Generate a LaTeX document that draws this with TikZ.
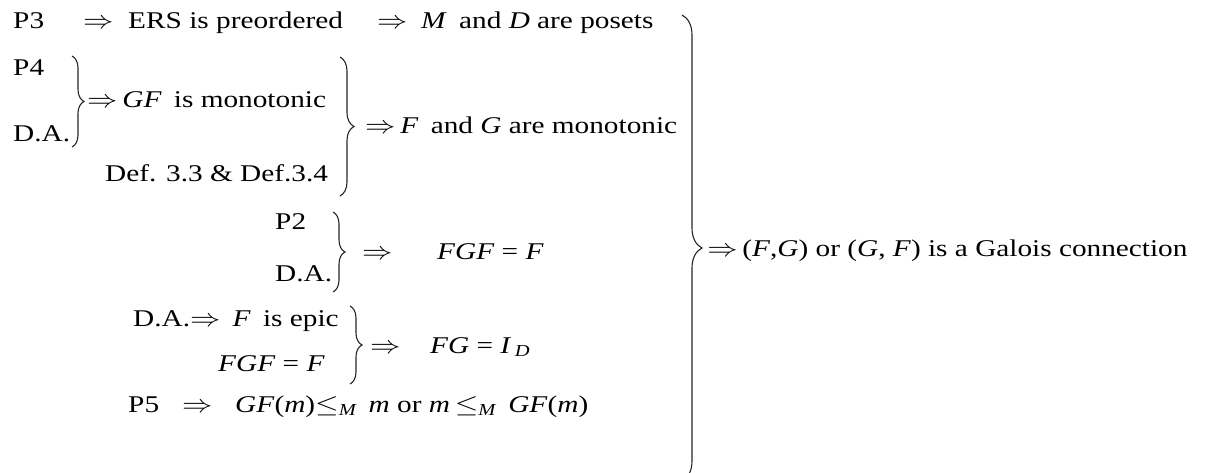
\documentclass[tikz,border=0pt]{standalone}
\usepackage{amsmath}
\usepackage{fontspec}
\setmainfont{Liberation Serif}
\usetikzlibrary{decorations.pathreplacing}
\tikzset{
  txt/.style={anchor=base west, inner sep=0pt, xscale=1.22, font=\fontsize{24}{28}\selectfont},
  brc/.style={decorate, decoration={brace, amplitude=#1}, line width=1.1pt, draw=black!85},
}
\newcommand{\im}[1]{\textit{#1}}
\newcommand{\imp}{$\Rightarrow$}

\begin{document}
\begin{tikzpicture}[x=1pt, y=-1pt]
    \useasboundingbox (0,0) rectangle (1221,473);
    \clip (0,0) rectangle (1221,473);
    % first line
    \node[txt] (p3) at (13,29) {P3};
    \node[txt] (r1a) at (83,29) {\imp};
    \node[txt] (ers) at (128,29) {ERS is preordered};
    \node[txt] (r1b) at (377,29) {\imp};
    \node[txt] (poset) at (421,29) {\im{M}\, and \im{D} are posets};
    % monotonic
    \node[txt] (p4) at (13,76) {P4};
    \node[txt] (da1) at (13,142) {D.A.};
    \node[txt] (gf) at (87,108) {\imp\,\im{GF}\, is monotonic};
    \node[txt] (def) at (105,182) {Def. 3.3 \& Def.3.4};
    \node[txt] (fg) at (365,134) {\imp\,\im{F}\, and \im{G} are monotonic};
    \coordinate (b1t) at (72,56);   \coordinate (b1b) at (72,147);
    \coordinate (b2t) at (340,57);  \coordinate (b2b) at (340,196);
    \draw[brc=12pt] (b1t) -- (b1b);
    \draw[brc=14pt] (b2t) -- (b2b);
    % FGF = F
    \node[txt] (p2) at (275,230) {P2};
    \node[txt] (da2) at (275,281) {D.A.};
    \node[txt] (r3) at (362,259) {\imp};
    \node[txt] (fgf1) at (437,259) {\im{FGF} = \im{F}};
    \coordinate (b3t) at (333,212); \coordinate (b3b) at (333,292);
    \draw[brc=12pt] (b3t) -- (b3b);
    % FG = I_D
    \node[txt] (epic) at (133,326) {D.A.\imp\ \,\im{F}\, is epic};
    \node[txt] (fgf2) at (218,371) {\im{FGF} = \im{F}};
    \node[txt] (r4) at (370,353) {\imp};
    \node[txt] (fgi) at (430,353) {\im{FG} = \im{I}$_{\,\textit{D}}$};
    \coordinate (b4t) at (350,306); \coordinate (b4b) at (350,384);
    \draw[brc=12pt] (b4t) -- (b4b);
    % P5
    \node[txt] (p5) at (128,412) {P5};
    \node[txt] (r5) at (182,412) {\imp};
    \node[txt] (ord) at (235,412) {\im{GF}(\im{m})$\leq_{\textit{M}}$\, \im{m} or \im{m}\,$\leq_{\textit{M}}$\, \im{GF}(\im{m})};
    % Galois connection
    \coordinate (bgt) at (682,15);  \coordinate (bgb) at (682,481);
    \draw[brc=20pt] (bgt) -- (bgb);
    \node[txt] (galois) at (707,256) {\imp\,(\im{F},\im{G}) or (\im{G}, \im{F}) is a Galois connection};
\end{tikzpicture}
\end{document}
